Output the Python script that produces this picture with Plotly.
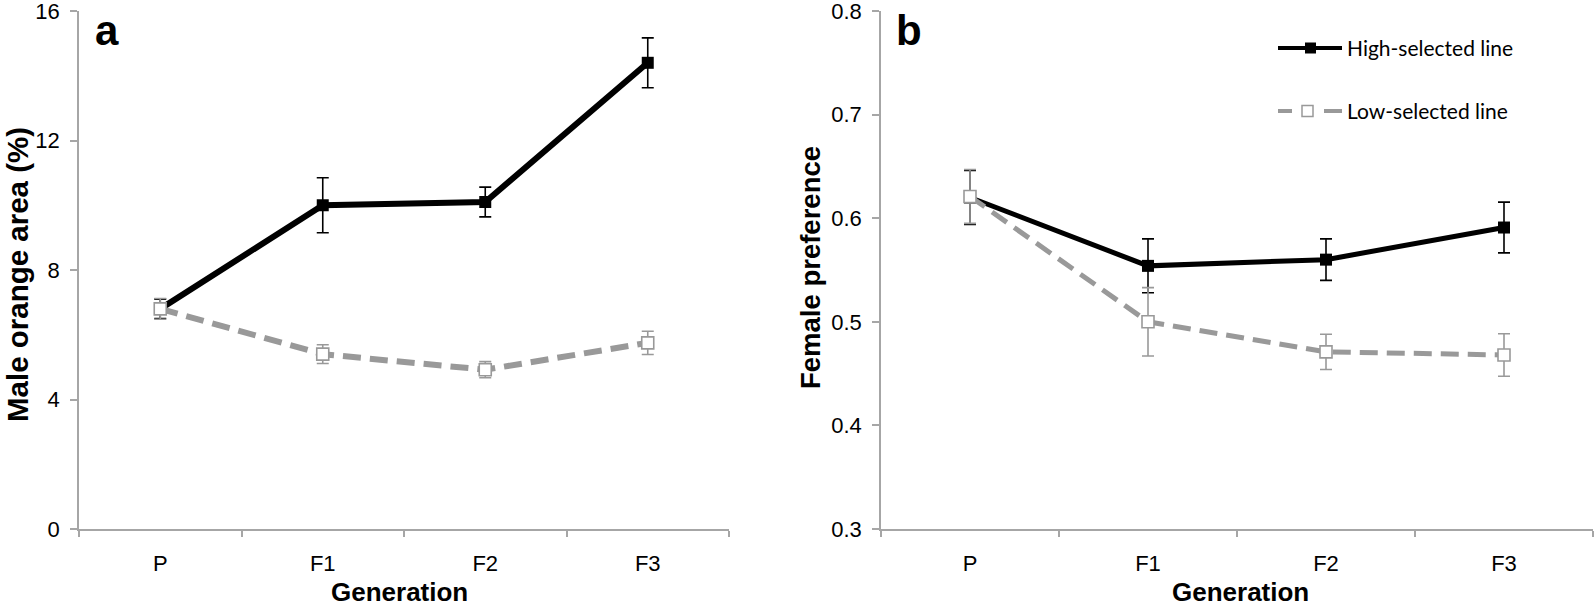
import plotly.graph_objects as go

# ---------------- data ----------------
generations = ["P", "F1", "F2", "F3"]

# panel a: male orange area (%)
high_orange = [6.8, 10.0, 10.1, 14.4]
high_orange_err = [0.30, 0.85, 0.46, 0.77]
low_orange = [6.8, 5.4, 4.92, 5.75]
low_orange_err = [0.32, 0.29, 0.25, 0.36]

# panel b: female preference
high_pref = [0.620, 0.554, 0.560, 0.591]
high_pref_err = [0.026, 0.026, 0.020, 0.0245]
low_pref = [0.621, 0.500, 0.471, 0.468]
low_pref_err = [0.026, 0.033, 0.017, 0.0205]

series_names = ["High-selected line", "Low-selected line"]
yticks_a = [0, 4, 8, 12, 16]
yticks_b = [0.3, 0.4, 0.5, 0.6, 0.7, 0.8]
x_title = "Generation"
y_title_a = "Male orange area (%)"
y_title_b = "Female preference"

# ---------------- styling ----------------
W, H = 1594, 607
BLACK = "#000000"
GREY = "#999999"
AXIS = "#a6a6a6"
FAM = "Liberation Sans, Arial, sans-serif"
TICKFONT = dict(family=FAM, size=22, color="black")


def px_x(x):
    return x / W


def px_y(y):
    return 1 - y / H


fig = go.Figure()


def add_panel(xa, ya, hi, hi_err, lo, lo_err, lw):
    fig.add_trace(go.Scatter(
        x=generations, y=hi, name=series_names[0], mode="lines+markers",
        xaxis=xa, yaxis=ya, showlegend=False,
        line=dict(color=BLACK, width=lw),
        marker=dict(symbol="square", size=12, color=BLACK),
        error_y=dict(type="data", array=hi_err, visible=True, color=BLACK,
                     thickness=1.6, width=6),
    ))
    fig.add_trace(go.Scatter(
        x=generations, y=lo, name=series_names[1], mode="lines+markers",
        xaxis=xa, yaxis=ya, showlegend=False,
        line=dict(color=GREY, width=lw, dash="18px,9px"),
        marker=dict(symbol="square", size=12, color="white",
                    line=dict(color=GREY, width=1.6)),
        error_y=dict(type="data", array=lo_err, visible=True, color=GREY,
                     thickness=1.6, width=6),
    ))


add_panel("x", "y", high_orange, high_orange_err, low_orange, low_orange_err, 6)
add_panel("x2", "y2", high_pref, high_pref_err, low_pref, low_pref_err, 5)

ydom = [px_y(529), px_y(11)]

xcommon = dict(
    type="category", categoryorder="array", categoryarray=generations,
    range=[-0.5, 3.5], tickson="boundaries", ticks="outside", ticklen=6,
    tickwidth=1.5, tickcolor=AXIS, showline=True, linecolor=AXIS, linewidth=1.6,
    showgrid=False, zeroline=False, tickfont=TICKFONT, ticklabelstandoff=14,
    automargin=False, ticklabeloverflow="allow",
)
ycommon = dict(
    ticks="outside", ticklen=7, tickwidth=1.5, tickcolor=AXIS, showline=True,
    linecolor=AXIS, linewidth=1.6, showgrid=False, zeroline=False,
    tickfont=TICKFONT, ticklabelstandoff=6, automargin=False,
    ticklabeloverflow="allow",
)

fig.update_layout(
    width=W, height=H,
    margin=dict(l=0, r=0, t=0, b=0),
    paper_bgcolor="white", plot_bgcolor="white",
    font=dict(family=FAM, color="black"),
    xaxis=dict(domain=[px_x(79), px_x(729)], anchor="y", **xcommon),
    xaxis2=dict(domain=[px_x(881), px_x(1593)], anchor="y2", **xcommon),
    yaxis=dict(domain=ydom, anchor="x", range=[0, 16], tickvals=yticks_a,
               **ycommon),
    yaxis2=dict(domain=ydom, anchor="x2", range=[0.3, 0.8], tickvals=yticks_b,
                tickformat=".1f", **ycommon),
)

# axis titles (placed as annotations for exact positioning)
for xpix in (399, 1240):
    fig.add_annotation(text=f"<b>{x_title}</b>", xref="paper", yref="paper",
                       x=px_x(xpix), y=px_y(592), xanchor="center",
                       yanchor="middle", showarrow=False,
                       font=dict(family=FAM, size=26, color="black"))
for txt, xpix, ypix, size in ((y_title_a, 17, 275, 29.5),
                              (y_title_b, 810, 268, 27.5)):
    fig.add_annotation(text=f"<b>{txt}</b>", xref="paper", yref="paper",
                       x=px_x(xpix), y=px_y(ypix), xanchor="center",
                       yanchor="middle", textangle=-90, showarrow=False,
                       font=dict(family=FAM, size=size, color="black"))

# panel letters
for letter, xpix in (("a", 93), ("b", 894)):
    fig.add_annotation(text=f"<b>{letter}</b>", xref="paper", yref="paper",
                       x=px_x(xpix), y=px_y(30), xanchor="left", yanchor="middle",
                       showarrow=False,
                       font=dict(family=FAM, size=42, color="black"))

# legend (drawn manually to match the reference symbol layout)
LEGFONT = dict(family="Lato, sans-serif", size=21, color="black")
ly_hi, ly_lo = 48, 111
fig.add_shape(type="line", xref="paper", yref="paper",
              x0=px_x(1278), x1=px_x(1342), y0=px_y(ly_hi), y1=px_y(ly_hi),
              line=dict(color=BLACK, width=4))
fig.add_shape(type="rect", xref="paper", yref="paper",
              x0=px_x(1305), x1=px_x(1316), y0=px_y(ly_hi - 5.5), y1=px_y(ly_hi + 5.5),
              line=dict(color=BLACK, width=0), fillcolor=BLACK)
fig.add_annotation(text=series_names[0], xref="paper", yref="paper",
                   x=px_x(1345), y=px_y(ly_hi), xanchor="left", yanchor="middle",
                   showarrow=False, font=LEGFONT)
for xa, xb in ((1278, 1292), (1324, 1342)):
    fig.add_shape(type="line", xref="paper", yref="paper",
                  x0=px_x(xa), x1=px_x(xb), y0=px_y(ly_lo), y1=px_y(ly_lo),
                  line=dict(color=GREY, width=4))
fig.add_shape(type="rect", xref="paper", yref="paper",
              x0=px_x(1302), x1=px_x(1313), y0=px_y(ly_lo - 5.5), y1=px_y(ly_lo + 5.5),
              line=dict(color=GREY, width=1.5), fillcolor="white")
fig.add_annotation(text=series_names[1], xref="paper", yref="paper",
                   x=px_x(1345), y=px_y(ly_lo), xanchor="left", yanchor="middle",
                   showarrow=False, font=LEGFONT)

# remove the default 8px page margin so the figure fills the window exactly
fig.write_html("out.html",
               config={"displayModeBar": False},
               post_script="document.body.style.margin='0';"
                           "document.body.style.overflow='hidden';")
